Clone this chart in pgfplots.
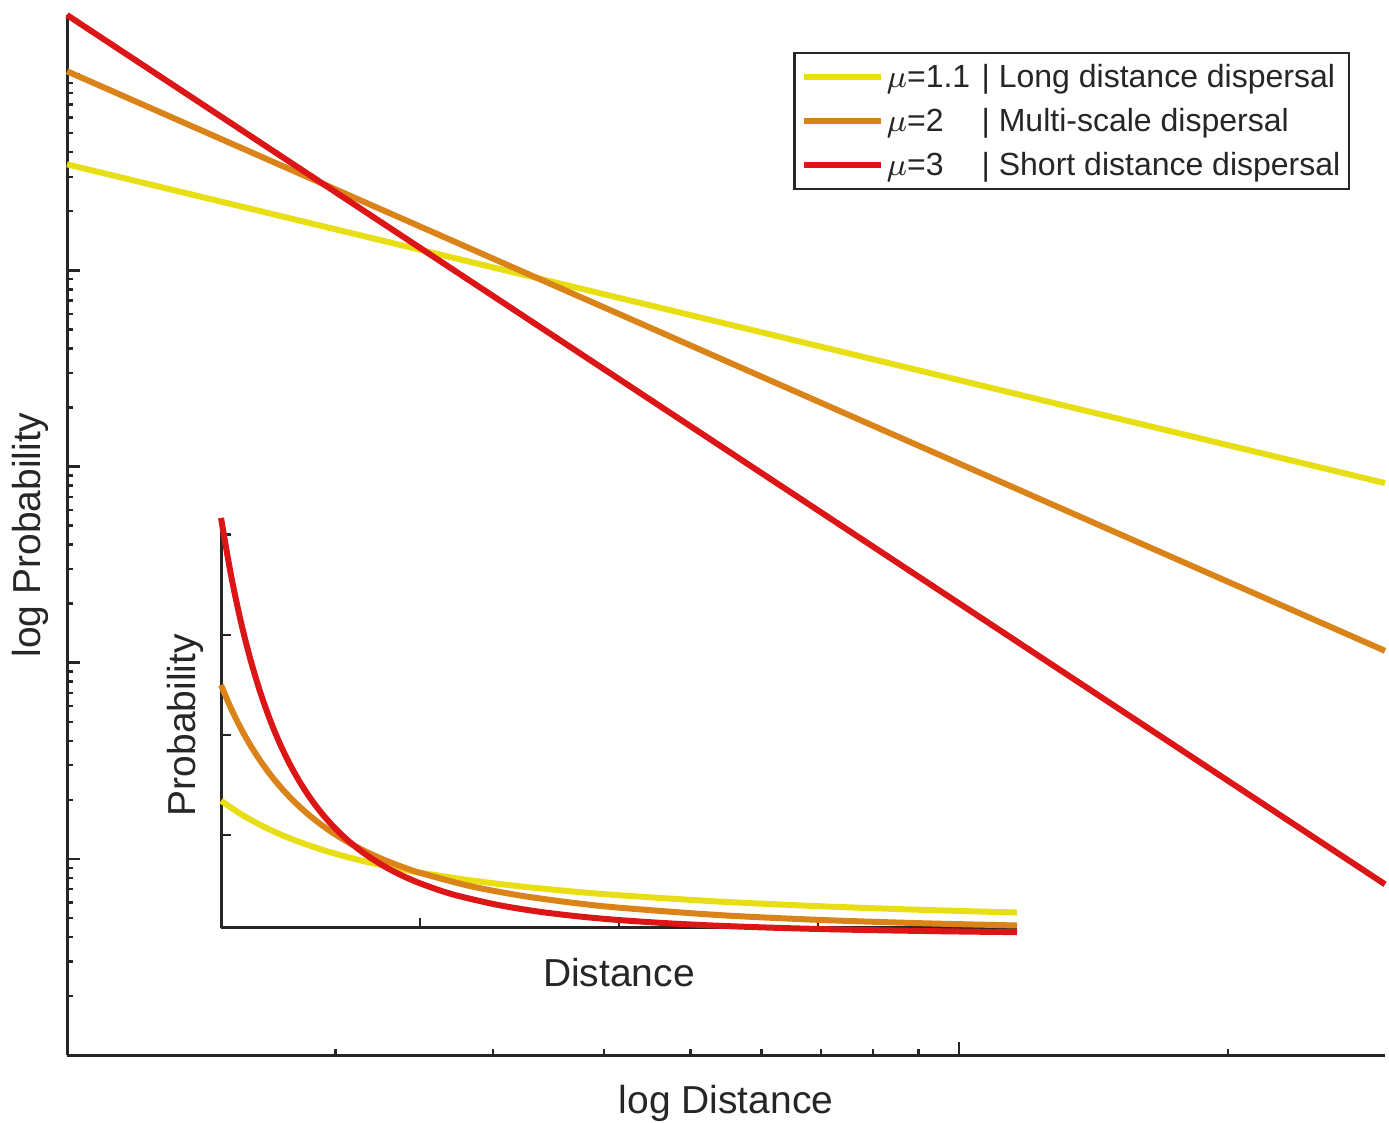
\documentclass[border=0pt]{standalone}
\usepackage{pgfplots}
\pgfplotsset{compat=1.18}
\usepackage{fontspec}
\setmainfont{Liberation Sans}
\definecolor{axgray}{HTML}{262626}
\definecolor{myellow}{HTML}{E8DE14}
\definecolor{morange}{HTML}{DA8319}
\definecolor{mred}{HTML}{DC1616}

\begin{document}
\begin{tikzpicture}
% main log-log axis
\begin{loglogaxis}[
    at={(0pt,0pt)}, anchor=south west,
    scale only axis, width=329.5pt, height=260pt,
    xmin=1, xmax=30, ymin=1e-5, ymax=2.002,
    clip=false,
    axis x line*=bottom, axis y line*=left,
    axis line style={axgray, line width=0.75pt},
    every tick/.style={axgray, line width=0.6pt},
    tick align=inside,
    major tick length=3.3pt, minor tick length=1.6pt,
    xtick={1,10}, minor xtick={2,3,4,5,6,7,8,9,20},
    ytick={1e-5,1e-4,1e-3,1e-2,1e-1,1},
    xticklabels={}, yticklabels={},
    xlabel={log Distance}, ylabel={log Probability},
    label style={font=\fontsize{9.75}{11}\selectfont, text=axgray},
    xlabel style={at={(axis description cs:0.5,-0.0462)}, anchor=center},
    ylabel style={at={(axis description cs:-0.0281,0.5)}, anchor=center},
    legend cell align=left,
    legend image code/.code={\draw[#1] (0pt,0pt) -- (19.25pt,0pt);},
    legend style={
        at={(rel axis cs:0.9734,0.9644)}, anchor=north east,
        draw=axgray, line width=0.6pt, text=axgray,
        font=\fontsize{8}{10}\selectfont,
        inner xsep=1.6pt, inner ysep=1.5pt, row sep=2.1pt, column sep=0.2pt,
        nodes={inner sep=0.5pt, text height=6.6pt, text depth=1.3pt}
    }
]
% mu = 1.1
\addplot[myellow, line width=1.5pt] coordinates {
    (1,0.3469) (2,0.1618) (5,0.05908) (10,0.02755) (20,0.012856) (30,0.008232)
};
% mu = 2
\addplot[morange, line width=1.5pt] coordinates {
    (1,1.0345) (2,0.2586) (5,0.04138) (10,0.010345) (20,0.002586) (30,0.001149)
};
% mu = 3
\addplot[mred, line width=1.5pt] coordinates {
    (1,2.002) (2,0.2503) (5,0.01602) (10,0.002002) (20,0.0002503) (30,0.00007415)
};
\addlegendentry{\makebox[23.75pt][l]{$\mu$=1.1}| Long distance dispersal}
\addlegendentry{\makebox[23.75pt][l]{$\mu$=2}| Multi-scale dispersal}
\addlegendentry{\makebox[23.75pt][l]{$\mu$=3}| Short distance dispersal}
\end{loglogaxis}

% linear inset
\begin{axis}[
    at={(38.5pt,31.75pt)}, anchor=south west,
    scale only axis, width=199pt, height=102.5pt,
    xmin=1, xmax=5, ymin=0.0374, ymax=2.083,
    clip=false,
    axis x line*=bottom, axis y line*=left,
    axis line style={axgray, line width=0.75pt},
    every tick/.style={axgray, line width=0.6pt},
    tick align=inside, major tick length=2.5pt,
    xtick={1,2,3,4}, ytick={0.5,1,1.5,2},
    xticklabels={}, yticklabels={},
    xlabel={Distance}, ylabel={Probability},
    label style={font=\fontsize{9.75}{11}\selectfont, text=axgray},
    xlabel style={at={(axis description cs:0.5,-0.1098)}, anchor=center},
    ylabel style={at={(axis description cs:-0.0452,0.495)}, anchor=center}
]
\addplot[myellow, line width=1.5pt, smooth] coordinates {
    (1,0.6725) (1.1,0.6056) (1.2,0.5503) (1.3,0.5039) (1.4,0.4644) (1.5,0.4305)
    (1.6,0.4010) (1.7,0.3751) (1.8,0.3523) (1.9,0.3319) (2,0.3137) (2.25,0.2756)
    (2.5,0.2455) (2.75,0.2211) (3,0.2009) (3.5,0.1695) (4,0.1464) (4.5,0.1286) (5,0.1145)
};
\addplot[morange, line width=1.5pt, smooth] coordinates {
    (1,1.25) (1.05,1.1338) (1.1,1.0331) (1.15,0.9452) (1.2,0.8681) (1.25,0.8)
    (1.3,0.7396) (1.35,0.6859) (1.4,0.6378) (1.45,0.5945) (1.5,0.5556) (1.55,0.5203)
    (1.6,0.4883) (1.65,0.4591) (1.7,0.4325) (1.75,0.4082) (1.8,0.3858) (1.85,0.3652)
    (1.9,0.3463) (1.95,0.3287) (2,0.3125) (2.25,0.2469) (2.5,0.2) (2.75,0.1653)
    (3,0.1389) (3.5,0.1020) (4,0.0781) (4.5,0.0617) (5,0.05)
};
\addplot[mred, line width=1.5pt, smooth] coordinates {
    (1,2.083) (1.05,1.7994) (1.1,1.565) (1.15,1.3696) (1.2,1.2055) (1.25,1.0665)
    (1.3,0.9481) (1.35,0.8466) (1.4,0.7591) (1.45,0.6833) (1.5,0.6172) (1.55,0.5594)
    (1.6,0.5086) (1.65,0.4637) (1.7,0.4240) (1.75,0.3887) (1.8,0.3572) (1.85,0.3290)
    (1.9,0.3037) (1.95,0.2809) (2,0.2604) (2.1,0.2249) (2.2,0.1956) (2.4,0.1507)
    (2.6,0.1185) (2.8,0.0949) (3,0.0771) (3.25,0.0607) (3.5,0.0486) (3.75,0.0395)
    (4,0.0325) (4.25,0.0271) (4.5,0.0229) (4.75,0.0194) (5,0.0167)
};
\end{axis}

\pgfresetboundingbox
\path (-16.75pt,-16.75pt) rectangle (330.5pt,263.75pt);
\end{tikzpicture}
\end{document}
